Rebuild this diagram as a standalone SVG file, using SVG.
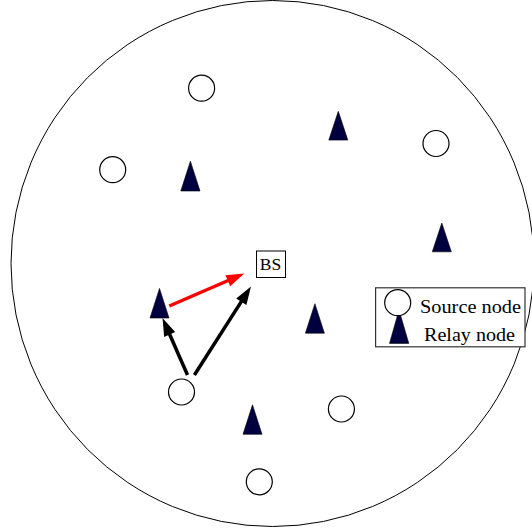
<svg xmlns="http://www.w3.org/2000/svg" width="532" height="531" viewBox="0 0 532 531">
<style>
.src{fill:#fff;stroke:#000;stroke-width:1.2}
.rel{fill:#000040;stroke:#000;stroke-width:0.6}
.lbl{font-family:"Liberation Serif","Times New Roman",serif;fill:#000}
.blk{stroke:#000;stroke-width:3.5;fill:none}
.red{stroke:#ff0000;stroke-width:3.5;fill:none}
.hb{fill:#000}
.hr{fill:#ff0000}
</style>
<rect width="532" height="531" fill="#fff"/>
<ellipse id="area" cx="272.5" cy="263.5" rx="261.5" ry="263" fill="none" stroke="#000" stroke-width="1"/>
<g id="s1"><circle class="src" cx="201.6" cy="88.2" r="13"/></g>
<g id="s2"><circle class="src" cx="112.7" cy="169.7" r="13"/></g>
<g id="s3"><circle class="src" cx="436" cy="143.5" r="13"/></g>
<g id="s4"><circle class="src" cx="181.5" cy="392" r="13"/></g>
<g id="s5"><circle class="src" cx="341.4" cy="409" r="13"/></g>
<g id="s6"><circle class="src" cx="259.3" cy="481.8" r="13"/></g>
<g id="r1"><polygon class="rel" points="338.3,111.3 347.8,140.1 328.8,140.1"/></g>
<g id="r2"><polygon class="rel" points="190.4,161.2 200,191 180.8,191"/></g>
<g id="r3"><polygon class="rel" points="441.8,223 451.3,251.8 432.3,251.8"/></g>
<g id="r4"><polygon class="rel" points="159.5,288.4 169,318 150,318"/></g>
<g id="r5"><polygon class="rel" points="314.9,303.7 324.4,333.2 305.4,333.2"/></g>
<g id="r6"><polygon class="rel" points="252.5,404.8 262,434.3 243,434.3"/></g>
<g id="bs">
<rect x="256.5" y="251" width="29" height="26.5" fill="#fff" stroke="#000" stroke-width="1"/>
<text class="lbl" x="270.5" y="270.3" font-size="17.5" text-anchor="middle">BS</text>
</g>
<g id="connectors">
<line class="red" x1="169.3" y1="306" x2="235.1" y2="277.5"/>
<polygon class="hr" points="244.3,273.5 230.2,286.2 225.4,275.2"/>
<line class="blk" x1="187.5" y1="375" x2="166.5" y2="327.2"/>
<polygon class="hb" points="162.5,318 175.2,332.1 164.2,336.9"/>
<line class="blk" x1="194.4" y1="375" x2="245.6" y2="294.9"/>
<polygon class="hb" points="251,286.5 246.4,304.9 236.2,298.5"/>
</g>
<g id="legend">
<rect x="375.6" y="287.8" width="149.4" height="59" fill="#fff" stroke="#333" stroke-width="1.2"/>
<polygon class="rel" points="399,310 408.8,343.4 389.5,343.4"/>
<circle class="src" cx="397.7" cy="302.7" r="13"/>
<text class="lbl" x="420" y="312.8" font-size="19" textLength="101" lengthAdjust="spacingAndGlyphs">Source node</text>
<text class="lbl" x="424" y="340.5" font-size="19" textLength="91" lengthAdjust="spacingAndGlyphs">Relay node</text>
</g>
</svg>
